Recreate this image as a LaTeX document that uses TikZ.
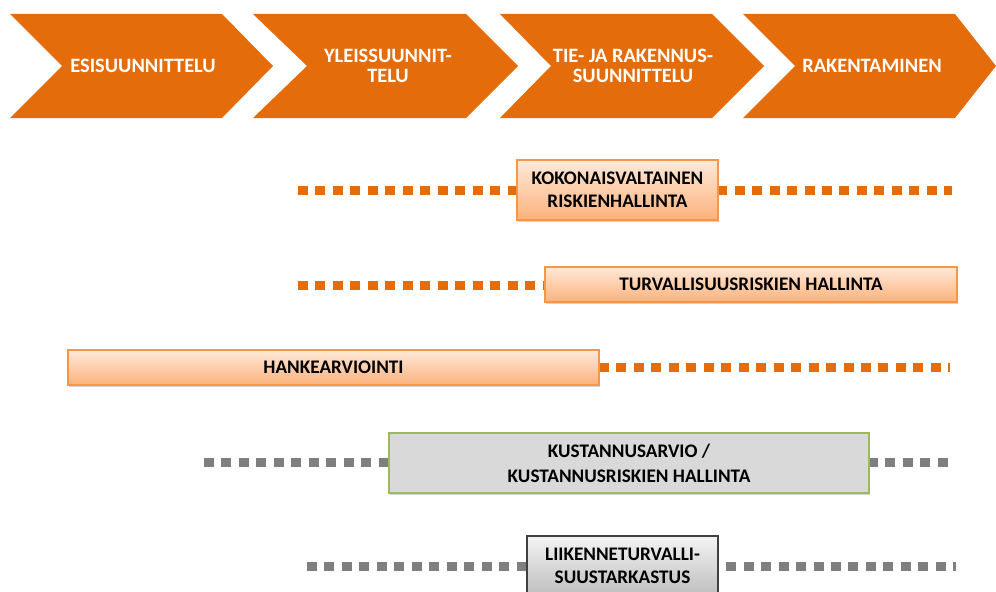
\documentclass[tikz,border=0pt]{standalone}
\usepackage{fontspec}
\setmainfont{Carlito}
\usetikzlibrary{shadows}
\definecolor{chevorange}{HTML}{E46C0A}
\definecolor{boxorange}{HTML}{F79646}
\definecolor{peachtop}{HTML}{FFE9D8}
\definecolor{peachbot}{HTML}{FBB27C}
\definecolor{dotgray}{HTML}{7F7F7F}
\definecolor{costgray}{HTML}{D9D9D9}
\definecolor{costgreen}{HTML}{9BBB59}
\definecolor{trafftop}{HTML}{F4F4F4}
\definecolor{traffbot}{HTML}{BDBDBD}
\tikzset{>=latex}

\begin{document}
\begin{tikzpicture}[x=0.75pt,y=-0.75pt,
  chevron/.style={fill=chevorange},
  phase/.style={text=white,font=\fontsize{15.3}{15.5}\selectfont\bfseries,align=center},
  boxtext/.style={font=\fontsize{14.4}{17.5}\selectfont\bfseries,align=center,inner sep=0pt,
    drop shadow={shadow xshift=0.6pt,shadow yshift=-1.8pt,opacity=0.35}},
  obox/.style={boxtext,draw=boxorange,line width=0.8pt,top color=peachtop,bottom color=peachbot},
  cbox/.style={boxtext,draw=costgreen,line width=0.8pt,fill=costgray},
  tbox/.style={boxtext,draw=black!75,line width=0.8pt,top color=trafftop,bottom color=traffbot},
  odots/.style={draw=chevorange,line width=6.75pt,dash pattern=on 7.5pt off 5.6pt},
  gdots/.style={draw=dotgray,line width=6.75pt,dash pattern=on 7.5pt off 5.6pt}]
  \useasboundingbox (0,0) rectangle (996,592);

  % Chevrons
  \fill[chevron] (10,14) -- (222,14) -- (273,66) -- (222,118) -- (10,118) -- (62,66) -- cycle;
  \fill[chevron] (253,14) -- (466,14) -- (518,66) -- (466,118) -- (253,118) -- (307,66) -- cycle;
  \fill[chevron] (500,14) -- (712,14) -- (764,66) -- (712,118) -- (500,118) -- (551,66) -- cycle;
  \fill[chevron] (743,14) -- (955,14) -- (996,66) -- (955,118) -- (743,118) -- (795,66) -- cycle;

  \node[phase] (esi) at (143,66) {ESISUUNNITTELU};
  \node[phase] (yleis) at (388,66) {YLEISSUUNNIT-\\TELU};
  \node[phase] (tie) at (633,66) {TIE- JA RAKENNUS-\\SUUNNITTELU};
  \node[phase] (rak) at (872,66) {RAKENTAMINEN};

  % Line ends
  \coordinate (kokL) at (298,190);
  \coordinate (kokR) at (952,190);
  \coordinate (turvL) at (298,285);
  \coordinate (turvR) at (545,285);
  \coordinate (hankL) at (599,367);
  \coordinate (hankR) at (950,367);
  \coordinate (kustL) at (204,462);
  \coordinate (kustR) at (950,462);
  \coordinate (liikL) at (307,566);
  \coordinate (liikR) at (956,566);

  % Lines
  \draw[odots] (kokL) -- (kokR);
  \draw[odots] (turvL) -- (turvR);
  \draw[odots] (hankL) -- (hankR);
  \draw[gdots] (kustL) -- (kustR);
  \draw[gdots] (liikL) -- (liikR);

  % Boxes
  \node[obox,minimum width=150.75pt,minimum height=45pt] (kok) at (617.5,190)
    {KOKONAISVALTAINEN\\RISKIENHALLINTA};
  \node[obox,minimum width=309pt,minimum height=26.25pt] (turv) at (751,284.5)
    {TURVALLISUUSRISKIEN HALLINTA};
  \node[obox,minimum width=398.25pt,minimum height=26.25pt] (hank) at (333.5,367.5)
    {HANKEARVIOINTI};
  \node[cbox,minimum width=360pt,minimum height=45pt] (kust) at (629,463)
    {KUSTANNUSARVIO /\\[1.5pt]KUSTANNUSRISKIEN HALLINTA};
  \node[tbox,minimum width=143.25pt,minimum height=45pt] (liik) at (622.5,566)
    {LIIKENNETURVALLI-\\SUUSTARKASTUS};
\end{tikzpicture}
\end{document}
